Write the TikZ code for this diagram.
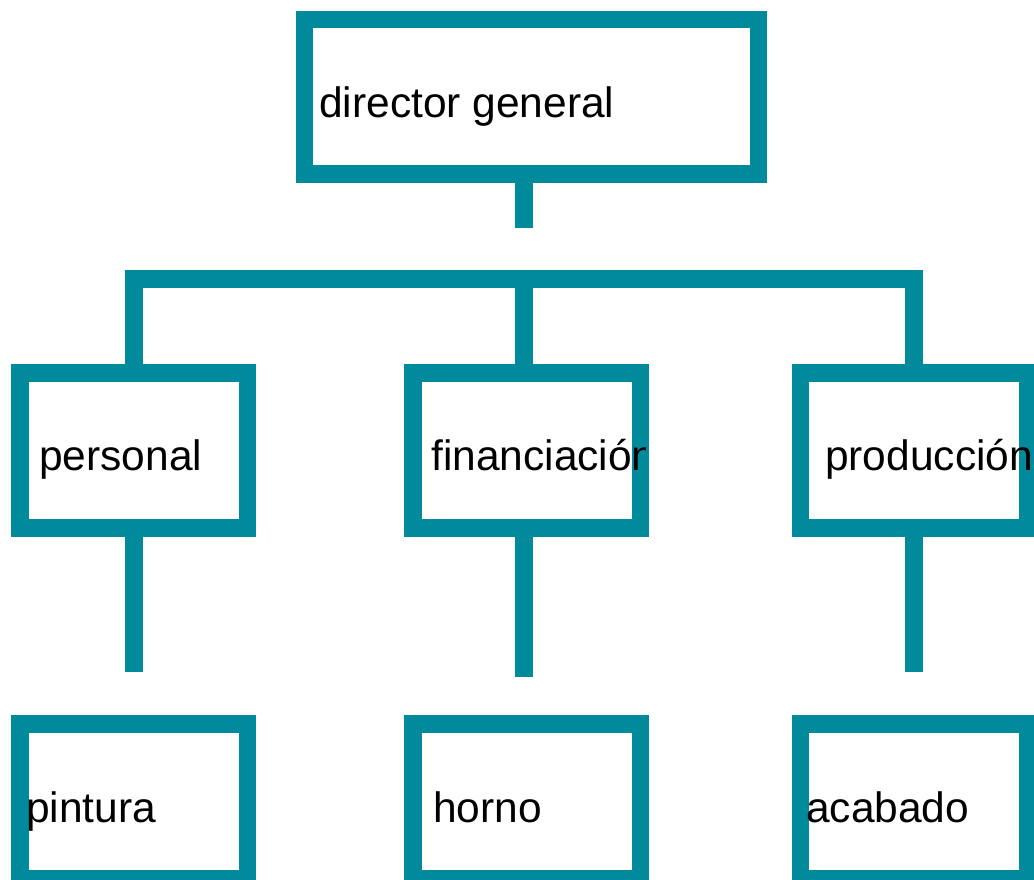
\documentclass[tikz,border=0pt]{standalone}
\usepackage{fontspec}
\setmainfont{Liberation Sans}
\definecolor{teal}{RGB}{0,138,155}
\begin{document}
\begin{tikzpicture}[x=1pt,y=-1pt,
  orgbox/.style={draw=teal,line width=17.5pt,line join=miter,rectangle,inner sep=0pt,minimum width=227.5pt,minimum height=155pt},
  conn/.style={draw=teal,line width=17.5pt,line join=miter,line cap=butt},
  lbl/.style={anchor=base west,inner sep=0pt,font=\fontsize{42.5}{50}\selectfont,text=black}]
\useasboundingbox (0,0) rectangle (1034,879);
\fill[white] (0,0) rectangle (1034,879);
% coordinates
\coordinate (s0) at (524,228);
\coordinate (cL) at (134,279);
\coordinate (cM) at (524,279);
\coordinate (cR) at (914,279);
\coordinate (eL) at (134,672);
\coordinate (eM) at (524,677);
\coordinate (eR) at (914,672);
% boxes
\node[orgbox,minimum width=454pt,minimum height=154.5pt] (dg) at (531.5,96.75) {};
\node[orgbox] (pers) at (133.75,450.5) {};
\node[orgbox] (fin) at (526.75,450.5) {};
\node[orgbox] (prod) at (914.25,450.5) {};
\node[orgbox] (pint) at (133.75,801.5) {};
\node[orgbox] (horn) at (526.75,801.5) {};
\node[orgbox] (acab) at (914.25,801.5) {};
% connectors
\draw[conn] (dg.south -| s0) -- (s0);
\draw[conn] (pers.north -| cL) -- (cL) -- (cR) -- (prod.north -| cR);
\draw[conn] (cM) -- (fin.north -| cM);
\draw[conn] (pers.south -| cL) -- (eL);
\draw[conn] (fin.south -| cM) -- (eM);
\draw[conn] (prod.south -| cR) -- (eR);
% labels
\node[lbl] (tdg) at (319,117) {director general};
\node[lbl] (tpers) at (39,470) {personal};
\begin{scope}
\clip (404,364) rectangle (645,537);
\node[lbl] (tfin) at (431,470) {financiación};
\end{scope}
\node[lbl] (tprod) at (825,470) {producción};
\node[lbl] (tpint) at (26,822) {pintura};
\node[lbl] (thorn) at (433,822) {horno};
\node[lbl] (tacab) at (806,822) {acabado};
\end{tikzpicture}
\end{document}
